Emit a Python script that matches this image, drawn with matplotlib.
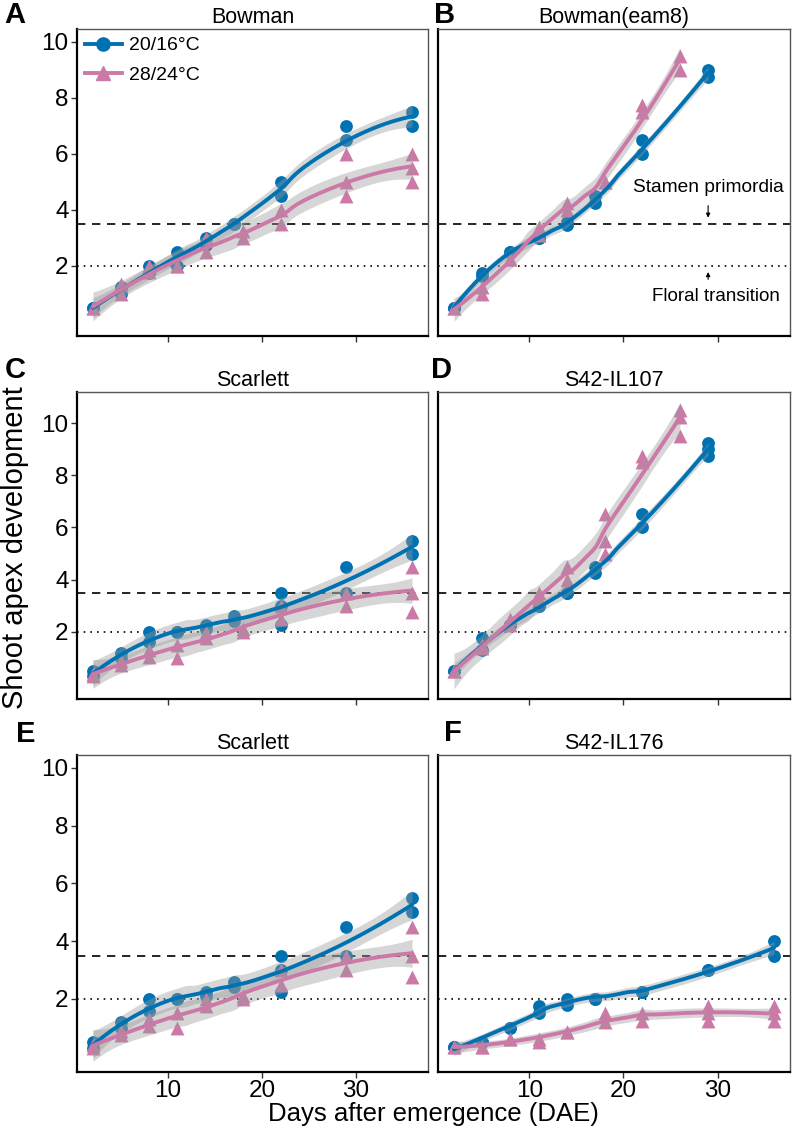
"""Shoot apex development of barley lines under two temperature regimes."""

import matplotlib
matplotlib.use("Agg")
import matplotlib.pyplot as plt
import numpy as np
from matplotlib.lines import Line2D

plt.rcParams["font.family"] = ["Liberation Sans", "DejaVu Sans"]

BLUE = "#0072B2"
PINK = "#CC79A7"
LEGEND_LABELS = ["20/16°C", "28/24°C"]

# ---- data (days after emergence, apex stage) ----
bowman_cool_day = [2, 2, 5, 5, 8, 8, 11, 11, 14, 14, 17, 17, 22, 22, 29, 29, 36, 36]
bowman_cool_val = [0.5, 0.5, 1.0, 1.25, 2.0, 1.75, 2.5, 2.0, 3.0, 2.75, 3.5, 3.5, 5.0, 4.5, 7.0, 6.5, 7.5, 7.0]
bowman_warm_day = [2, 2, 5, 5, 8, 8, 11, 11, 14, 14, 18, 18, 22, 22, 29, 29, 29, 36, 36, 36]
bowman_warm_val = [0.5, 0.5, 1.0, 1.35, 2.0, 1.8, 2.0, 2.0, 3.0, 2.5, 3.0, 3.25, 4.0, 3.5, 6.0, 5.0, 4.5, 6.0, 5.5, 5.0]

eam8_cool_day = [2, 2, 5, 5, 8, 8, 11, 11, 14, 14, 17, 17, 22, 22, 29, 29]
eam8_cool_val = [0.5, 0.5, 1.75, 1.65, 2.5, 2.5, 3.0, 3.0, 3.55, 3.45, 4.5, 4.25, 6.5, 6.0, 9.0, 8.75]
eam8_warm_day = [2, 2, 5, 5, 8, 8, 11, 11, 14, 14, 18, 18, 22, 22, 26, 26]
eam8_warm_val = [0.5, 0.5, 1.25, 1.0, 2.25, 2.25, 3.4, 3.1, 4.25, 4.0, 5.0, 5.0, 7.75, 7.5, 9.5, 9.0]

scarlett_cool_day = [2, 2, 5, 5, 8, 8, 11, 11, 14, 14, 17, 17, 22, 22, 22, 29, 29, 36, 36]
scarlett_cool_val = [0.5, 0.3, 1.2, 1.0, 2.0, 1.6, 2.0, 2.0, 2.25, 2.1, 2.6, 2.4, 3.5, 3.0, 2.25, 4.5, 3.5, 5.5, 5.0]
scarlett_warm_day = [2, 2, 5, 5, 8, 8, 11, 11, 14, 14, 18, 18, 22, 22, 29, 29, 36, 36, 36]
scarlett_warm_val = [0.3, 0.4, 0.75, 0.9, 1.05, 1.3, 1.0, 1.5, 1.75, 2.0, 2.0, 2.1, 3.0, 2.5, 3.0, 3.5, 4.5, 3.5, 2.75]

il107_cool_day = [2, 2, 5, 5, 8, 8, 11, 11, 14, 14, 17, 17, 22, 22, 29, 29, 29]
il107_cool_val = [0.5, 0.5, 1.75, 1.3, 2.25, 2.25, 3.0, 3.0, 3.5, 3.5, 4.5, 4.25, 6.5, 6.0, 9.25, 9.0, 8.75]
il107_warm_day = [2, 2, 5, 5, 8, 8, 11, 11, 14, 14, 18, 18, 18, 22, 22, 26, 26, 26]
il107_warm_val = [0.5, 0.5, 1.5, 1.4, 2.5, 2.25, 3.5, 3.25, 4.5, 4.0, 6.5, 5.5, 5.0, 8.75, 8.5, 10.5, 10.25, 9.5]

il176_cool_day = [2, 2, 5, 5, 8, 8, 11, 11, 14, 14, 17, 17, 22, 22, 29, 29, 36, 36]
il176_cool_val = [0.35, 0.35, 0.5, 0.5, 1.0, 1.0, 1.75, 1.5, 2.0, 1.8, 2.0, 2.0, 2.25, 2.25, 3.0, 3.0, 4.0, 3.5]
il176_warm_day = [2, 2, 5, 5, 8, 8, 11, 11, 14, 14, 18, 18, 22, 22, 29, 29, 29, 36, 36, 36]
il176_warm_val = [0.35, 0.35, 0.35, 0.35, 0.6, 0.6, 0.6, 0.5, 0.85, 0.85, 1.5, 1.2, 1.5, 1.25, 1.75, 1.5, 1.25, 1.75, 1.5, 1.25]

panel_letters = ["A", "B", "C", "D", "E", "F"]
panel_titles = ["Bowman", "Bowman(eam8)", "Scarlett", "S42-IL107", "Scarlett", "S42-IL176"]
panel_series = [
    (bowman_cool_day, bowman_cool_val, bowman_warm_day, bowman_warm_val),
    (eam8_cool_day, eam8_cool_val, eam8_warm_day, eam8_warm_val),
    (scarlett_cool_day, scarlett_cool_val, scarlett_warm_day, scarlett_warm_val),
    (il107_cool_day, il107_cool_val, il107_warm_day, il107_warm_val),
    (scarlett_cool_day, scarlett_cool_val, scarlett_warm_day, scarlett_warm_val),
    (il176_cool_day, il176_cool_val, il176_warm_day, il176_warm_val),
]

STAMEN_LEVEL = 3.5
FLORAL_LEVEL = 2.0


def loess(x, y, grid, span=0.75):
    """Local quadratic loess (tricube weights) with approximate 95% band."""
    x = np.asarray(x, float)
    y = np.asarray(y, float)
    n = len(x)
    q = max(int(np.floor(span * n)), 3)

    def hat_row(x0):
        d = np.abs(x - x0)
        h = max(np.sort(d)[q - 1], 1e-9) * 1.001
        w = np.clip(1 - (d / h) ** 3, 0, None) ** 3
        X = np.column_stack([np.ones(n), x - x0, (x - x0) ** 2])
        XtW = X.T * w
        return np.linalg.pinv(XtW @ X)[0] @ XtW

    L = np.array([hat_row(v) for v in x])
    M = np.eye(n) - L
    MtM = M.T @ M
    d1 = np.trace(MtM)
    d2 = np.trace(MtM @ MtM)
    resid = y - L @ y
    sigma = np.sqrt(resid @ resid / d1)
    df = d1 ** 2 / d2
    z = 1.959964
    t = z + (z ** 3 + z) / (4 * df) + (5 * z ** 5 + 16 * z ** 3 + 3 * z) / (96 * df ** 2)
    rows = np.array([hat_row(v) for v in grid])
    fit = rows @ y
    se = sigma * np.sqrt((rows ** 2).sum(axis=1))
    return fit, fit - t * se, fit + t * se


# ---- layout (pixels of a 793x1131 canvas) ----
W, H = 793, 1131
col_x = [(77, 428), (438, 790)]
row_y = [(29, 336), (392, 699), (755, 1072)]
row_ylim = [(-0.5, 10.45), (-0.57, 11.19), (-0.53, 10.45)]
letter_pos = [(4, 15), (434, 15), (5, 370), (431, 370), (16, 734), (444, 733)]

fig = plt.figure(figsize=(W / 100, H / 100), dpi=100)

for i in range(6):
    r, c = divmod(i, 2)
    x0, x1 = col_x[c]
    y0, y1 = row_y[r]
    ax = fig.add_axes([x0 / W, 1 - y1 / H, (x1 - x0) / W, (y1 - y0) / H])

    cool_d, cool_v, warm_d, warm_v = panel_series[i]
    for days, vals, color, marker in ((cool_d, cool_v, BLUE, "o"), (warm_d, warm_v, PINK, "^")):
        ax.scatter(days, vals, s=85 if marker == "o" else 100, marker=marker,
                   color=color, linewidths=0, zorder=2)
    for days, vals, color in ((cool_d, cool_v, BLUE), (warm_d, warm_v, PINK)):
        grid = np.linspace(min(days), max(days), 150)
        fit, lo, hi = loess(days, vals, grid)
        ax.fill_between(grid, lo, hi, color="#999999", alpha=0.4, linewidth=0, zorder=3)
        ax.plot(grid, fit, color=color, lw=2.8, zorder=4, solid_capstyle="round")

    ax.axhline(STAMEN_LEVEL, color="black", lw=1.2, ls=(0, (5, 4)), zorder=1)
    ax.axhline(FLORAL_LEVEL, color="black", lw=1.2, ls=(0, (1, 3)), zorder=1)

    ax.set_xlim(0.3, 37.7)
    ax.set_ylim(*row_ylim[r])
    ax.set_xticks([10, 20, 30])
    ax.set_yticks([2, 4, 6, 8, 10])
    ax.tick_params(direction="out", length=4, width=1.0, color="#333333",
                   labelsize=17.5, labelcolor="black", pad=2)
    if r < 2:
        ax.tick_params(axis="x", labelbottom=False)
    if c == 1:
        ax.tick_params(axis="y", left=False, labelleft=False)

    for side in ("left", "bottom"):
        ax.spines[side].set_linewidth(1.6)
        ax.spines[side].set_color("black")
    for side in ("top", "right"):
        ax.spines[side].set_linewidth(1.0)
        ax.spines[side].set_color("#555555")

    ax.set_title(panel_titles[i], fontsize=15.5, pad=4)
    lx, ly = letter_pos[i]
    fig.text(lx / W, 1 - ly / H, panel_letters[i], fontsize=21, fontweight="bold",
             ha="left", va="center")

    if i == 0:
        handles = [Line2D([], [], color=BLUE, lw=2.8, marker="o", markersize=9.5),
                   Line2D([], [], color=PINK, lw=2.8, marker="^", markersize=10.5)]
        ax.legend(handles, LEGEND_LABELS, loc="upper left", frameon=False, fontsize=14,
                  handlelength=1.9, handletextpad=0.35, labelspacing=0.6,
                  borderaxespad=0.2, borderpad=0.2)
    if i == 1:
        ax.text(29, 4.8, "Stamen primordia", fontsize=13.8, ha="center", va="center")
        ax.annotate("", xy=(29, 3.62), xytext=(29, 4.25),
                    arrowprops=dict(arrowstyle="-|>", lw=0.8, color="black",
                                    mutation_scale=6))
        ax.text(29.8, 0.9, "Floral transition", fontsize=13.5, ha="center", va="center")
        ax.annotate("", xy=(29, 1.88), xytext=(29, 1.42),
                    arrowprops=dict(arrowstyle="-|>", lw=0.8, color="black",
                                    mutation_scale=6))

fig.text(15 / W, 1 - 548 / H, "Shoot apex development", rotation=90, fontsize=21,
         ha="center", va="center")
fig.text(433 / W, 1 - 1114 / H, "Days after emergence (DAE)", fontsize=18.5,
         ha="center", va="center")

fig.savefig("out.png", dpi=100)
